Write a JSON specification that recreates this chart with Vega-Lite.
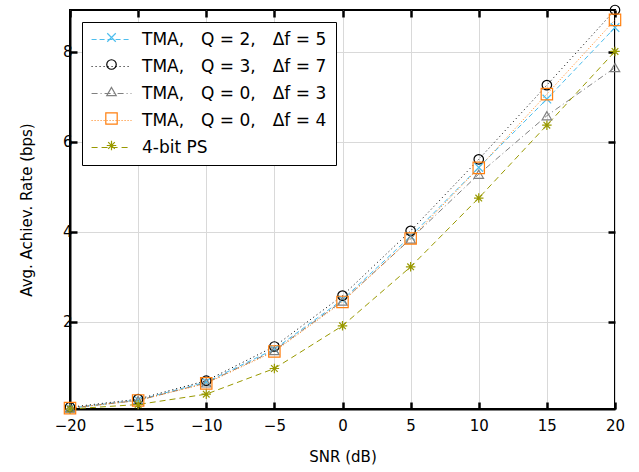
{
  "$schema": "https://vega.github.io/schema/vega-lite/v6.json",
  "width": 545,
  "height": 399,
  "autosize": {"type": "none"},
  "padding": {"left": 70, "top": 10, "right": 24, "bottom": 63},
  "background": "white",
  "config": {
    "font": "DejaVu Sans",
    "view": {"stroke": "black", "strokeWidth": 2}
  },
  "data": {
    "values": [
      {"snr": -20, "rate": 0.08, "series": "TMA, Q = 2, Δf = 5"},
      {"snr": -15, "rate": 0.26, "series": "TMA, Q = 2, Δf = 5"},
      {"snr": -10, "rate": 0.66, "series": "TMA, Q = 2, Δf = 5"},
      {"snr": -5, "rate": 1.39, "series": "TMA, Q = 2, Δf = 5"},
      {"snr": 0, "rate": 2.49, "series": "TMA, Q = 2, Δf = 5"},
      {"snr": 5, "rate": 3.9, "series": "TMA, Q = 2, Δf = 5"},
      {"snr": 10, "rate": 5.43, "series": "TMA, Q = 2, Δf = 5"},
      {"snr": 15, "rate": 6.95, "series": "TMA, Q = 2, Δf = 5"},
      {"snr": 20, "rate": 8.54, "series": "TMA, Q = 2, Δf = 5"},
      {"snr": -20, "rate": 0.1, "series": "TMA, Q = 3, Δf = 7"},
      {"snr": -15, "rate": 0.28, "series": "TMA, Q = 3, Δf = 7"},
      {"snr": -10, "rate": 0.69, "series": "TMA, Q = 3, Δf = 7"},
      {"snr": -5, "rate": 1.45, "series": "TMA, Q = 3, Δf = 7"},
      {"snr": 0, "rate": 2.58, "series": "TMA, Q = 3, Δf = 7"},
      {"snr": 5, "rate": 4.02, "series": "TMA, Q = 3, Δf = 7"},
      {"snr": 10, "rate": 5.61, "series": "TMA, Q = 3, Δf = 7"},
      {"snr": 15, "rate": 7.26, "series": "TMA, Q = 3, Δf = 7"},
      {"snr": 20, "rate": 8.93, "series": "TMA, Q = 3, Δf = 7"},
      {"snr": -20, "rate": 0.08, "series": "TMA, Q = 0, Δf = 3"},
      {"snr": -15, "rate": 0.25, "series": "TMA, Q = 0, Δf = 3"},
      {"snr": -10, "rate": 0.64, "series": "TMA, Q = 0, Δf = 3"},
      {"snr": -5, "rate": 1.36, "series": "TMA, Q = 0, Δf = 3"},
      {"snr": 0, "rate": 2.46, "series": "TMA, Q = 0, Δf = 3"},
      {"snr": 5, "rate": 3.84, "series": "TMA, Q = 0, Δf = 3"},
      {"snr": 10, "rate": 5.28, "series": "TMA, Q = 0, Δf = 3"},
      {"snr": 15, "rate": 6.58, "series": "TMA, Q = 0, Δf = 3"},
      {"snr": 20, "rate": 7.65, "series": "TMA, Q = 0, Δf = 3"},
      {"snr": -20, "rate": 0.08, "series": "TMA, Q = 0, Δf = 4"},
      {"snr": -15, "rate": 0.25, "series": "TMA, Q = 0, Δf = 4"},
      {"snr": -10, "rate": 0.63, "series": "TMA, Q = 0, Δf = 4"},
      {"snr": -5, "rate": 1.34, "series": "TMA, Q = 0, Δf = 4"},
      {"snr": 0, "rate": 2.44, "series": "TMA, Q = 0, Δf = 4"},
      {"snr": 5, "rate": 3.85, "series": "TMA, Q = 0, Δf = 4"},
      {"snr": 10, "rate": 5.42, "series": "TMA, Q = 0, Δf = 4"},
      {"snr": 15, "rate": 7.06, "series": "TMA, Q = 0, Δf = 4"},
      {"snr": 20, "rate": 8.71, "series": "TMA, Q = 0, Δf = 4"},
      {"snr": -20, "rate": 0.06, "series": "4-bit PS"},
      {"snr": -15, "rate": 0.16, "series": "4-bit PS"},
      {"snr": -10, "rate": 0.39, "series": "4-bit PS"},
      {"snr": -5, "rate": 0.96, "series": "4-bit PS"},
      {"snr": 0, "rate": 1.91, "series": "4-bit PS"},
      {"snr": 5, "rate": 3.22, "series": "4-bit PS"},
      {"snr": 10, "rate": 4.75, "series": "4-bit PS"},
      {"snr": 15, "rate": 6.37, "series": "4-bit PS"},
      {"snr": 20, "rate": 8.01, "series": "4-bit PS"}
    ]
  },
  "encoding": {
    "x": {"field": "snr", "type": "quantitative", "scale": {"domain": [-20, 20], "nice": false}},
    "y": {"field": "rate", "type": "quantitative", "scale": {"domain": [0.06, 8.93], "nice": false, "zero": false}},
    "color": {
      "field": "series", "type": "nominal",
      "scale": {
        "domain": ["TMA, Q = 2, Δf = 5", "TMA, Q = 3, Δf = 7", "TMA, Q = 0, Δf = 3", "TMA, Q = 0, Δf = 4", "4-bit PS"],
        "range": ["#4DBEEE", "#000000", "#808080", "#FF7F0E", "#999900"]
      },
      "legend": {
        "title": null, "orient": "none", "legendX": 12, "legendY": 10, "zindex": 1,
        "padding": 9, "labelFontSize": 17, "labelColor": "black", "labelOpacity": 0, "labelLimit": 400,
        "rowPadding": 9, "symbolSize": 90, "symbolStrokeWidth": 1.2, "labelOffset": 22, "symbolOffset": 12,
        "labelExpr": "replace(datum.label, /, /g, ',\u2003')",
        "encode": {"symbols": {"update": {"stroke": {"scale": "color", "field": "value"}, "shape": {"scale": "shape", "field": "value"}, "fill": {"value": "transparent"}}}}
      }
    }
  },
  "layer": [
    {
      "mark": {"type": "line", "strokeWidth": 1},
      "encoding": {
        "x": {"field": "snr", "type": "quantitative",
          "axis": {"orient": "bottom", "values": [-20, -15, -10, -5, 0, 5, 10, 15, 20], "title": "SNR (dB)",
            "grid": true, "gridColor": "#d9d9d9", "gridWidth": 1, "domainColor": "black", "domainWidth": 2,
            "tickColor": "black", "tickWidth": 2.5, "tickSize": -7, "labelPadding": 16, "labelFontSize": 15, "labelColor": "black", "labelFlush": false,
            "titleFontSize": 15, "titleFontWeight": "normal", "titleColor": "black", "titlePadding": 16}},
        "y": {"field": "rate", "type": "quantitative",
          "axis": {"orient": "left", "values": [2, 4, 6, 8], "title": "Avg. Achiev. Rate (bps)",
            "grid": true, "gridColor": "#d9d9d9", "gridWidth": 1, "domainColor": "black", "domainWidth": 2,
            "tickColor": "black", "tickWidth": 2.5, "tickSize": -7, "labelPadding": 5, "labelFontSize": 15, "labelColor": "black", "labelFlush": false,
            "titleFontSize": 15, "titleFontWeight": "normal", "titleColor": "black", "titlePadding": 28}},
        "detail": {"field": "series"},
        "strokeDash": {
          "field": "series", "type": "nominal",
          "sort": ["TMA, Q = 2, Δf = 5", "TMA, Q = 3, Δf = 7", "TMA, Q = 0, Δf = 3", "TMA, Q = 0, Δf = 4", "4-bit PS"],
          "scale": {
            "range": [[5, 3], [1, 3], [6, 3, 1, 3], [1, 2], [6, 4]]
          },
          "legend": {
            "title": null, "orient": "top-left", "offset": 12, "zindex": 0,
            "fillColor": "white", "strokeColor": "black", "cornerRadius": 0,
            "padding": 9, "labelFontSize": 17, "labelColor": "black", "labelLimit": 400,
            "rowPadding": 9, "symbolSize": 90, "symbolStrokeWidth": 1.2, "labelOffset": 22, "symbolOffset": 12,
            "symbolType": "M-4.2,0L4.2,0",
            "labelExpr": "replace(datum.label, /, /g, ',\u2003')",
            "encode": {"symbols": {"update": {"stroke": {"scale": "color", "field": "value"}, "shape": {"value": "M-4.2,0L4.2,0"}}}}
          }
        }
      }
    },
    {
      "mark": {"type": "point", "filled": false, "strokeWidth": 1.2, "size": 90, "opacity": 1},
      "encoding": {
        "x": {"field": "snr", "type": "quantitative",
          "axis": {"orient": "top", "values": [-20, -15, -10, -5, 0, 5, 10, 15, 20], "labels": false, "title": null,
            "grid": false, "domain": false, "tickColor": "black", "tickWidth": 2.5, "tickSize": -7}},
        "y": {"field": "rate", "type": "quantitative",
          "axis": {"orient": "right", "values": [2, 4, 6, 8], "labels": false, "title": null,
            "grid": false, "domain": false, "tickColor": "black", "tickWidth": 2.5, "tickSize": -7}},
        "shape": {
          "field": "series", "type": "nominal",
          "scale": {
            "domain": ["TMA, Q = 2, Δf = 5", "TMA, Q = 3, Δf = 7", "TMA, Q = 0, Δf = 3", "TMA, Q = 0, Δf = 4", "4-bit PS"],
            "range": ["M-0.9,-0.9L0.9,0.9M-0.9,0.9L0.9,-0.9", "circle", "triangle-up", "M-1.2,-1.2L1.2,-1.2L1.2,1.2L-1.2,1.2Z", "M-1,0L1,0M0,-1L0,1M-0.7,-0.7L0.7,0.7M-0.7,0.7L0.7,-0.7"]
          },
          "legend": null
        }
      }
    }
  ],
  "resolve": {"axis": {"x": "independent", "y": "independent"}}
}
